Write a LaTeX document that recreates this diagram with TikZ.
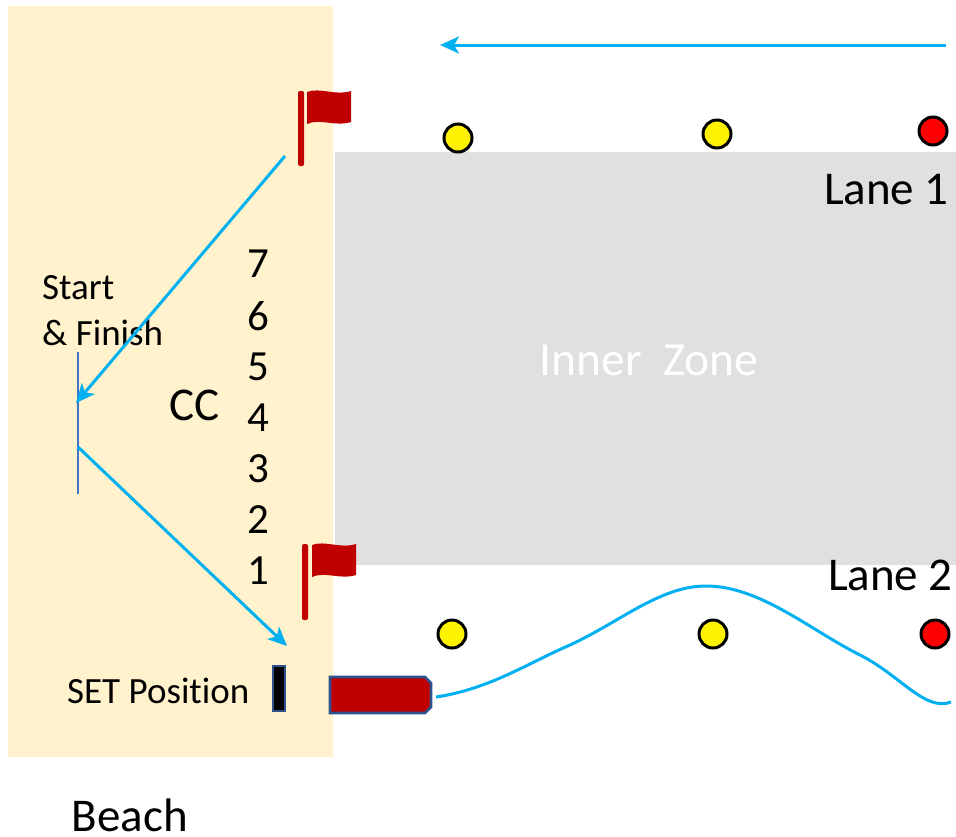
\documentclass[tikz,border=0pt]{standalone}
\usepackage{fontspec}
\setmainfont[Ligatures=NoCommon]{Carlito}
\usetikzlibrary{arrows.meta}
\definecolor{sand}{HTML}{FFF2CC}
\definecolor{zone}{HTML}{E0E0E0}
\definecolor{flagred}{HTML}{C00000}
\definecolor{arrowblue}{HTML}{00B0F0}
\definecolor{edgeblue}{HTML}{2F528F}
\definecolor{lineblue}{HTML}{4472C4}
\tikzset{
  buoy/.style={circle,draw=black,line width=3pt,fill=yellow,minimum size=28pt,inner sep=0pt},
  redbuoy/.style={buoy,fill=red},
  flow/.style={draw=arrowblue,line width=3pt,-{Stealth[length=19pt,width=17pt,inset=5pt]}},
  wave/.style={draw=arrowblue,line width=3pt},
  pole/.style={fill=flagred,rounded corners=2pt},
  flagcloth/.style={fill=flagred},
  lbl/.style={inner sep=0pt,text=black,font=\fontsize{47}{47}\selectfont},
  num/.style={inner sep=0pt,text=black,font=\fontsize{43}{43}\selectfont},
  small/.style={inner sep=0pt,text=black,font=\fontsize{37}{37}\selectfont},
}
\begin{document}
\begin{tikzpicture}[x=1pt,y=-1pt]
\useasboundingbox (0,0) rectangle (956,836);
\fill[sand] (8,6) rectangle (333,757);
\fill[zone] (335,152) rectangle (956,565);
\node[text=white,inner sep=0pt,font=\fontsize{47.5}{47.5}\selectfont] (inner) at (649,360) {Inner\ \ Zone};
\node[lbl,anchor=east] (lane1) at (949,190) {Lane 1};
\node[lbl,anchor=east] (lane2) at (953,575) {Lane 2};
\node[lbl,anchor=base] (beach) at (130,831) {Beach};
\node[lbl] (cc) at (195,405) {CC};
\foreach \n/\y in {7/264,6/316,5/367,4/418,3/469,2/520,1/571}
  \node[num] (n\n) at (258,\y) {\n};
\node[small,anchor=west] (start) at (42,288) {Start};
\node[small,anchor=west] (finish) at (42,333) {\&\ Finish};
\node[small,anchor=west] (setpos) at (67,691) {SET Position};
% flags
\fill[pole] (298,91) rectangle (304,166);
\fill[flagcloth] (307,92) .. controls (320,87) and (335,96) .. (351,91) -- (351,122)
  .. controls (335,127) and (320,118) .. (307,124) -- cycle;
\fill[pole] (302,544) rectangle (308,620);
\fill[flagcloth] (312,545) .. controls (325,540) and (340,549) .. (356,544) -- (356,575)
  .. controls (340,580) and (325,571) .. (312,577) -- cycle;
% buoys
\node[buoy] (b1) at (458,138) {};
\node[buoy] (b2) at (717,134) {};
\node[redbuoy] (b3) at (933,131) {};
\node[buoy] (b4) at (452,634) {};
\node[buoy] (b5) at (713,634) {};
\node[redbuoy] (b6) at (935,634) {};
% start line
\coordinate (sltop) at (78,352);
\coordinate (slbot) at (78,494);
\draw[lineblue,line width=2.6pt] (sltop) -- (slbot);
% arrows
\coordinate (topstart) at (946,45);
\coordinate (topend) at (440,45);
\draw[flow] (topstart) -- (topend);
\coordinate (inA) at (285,156);
\coordinate (inB) at (76,403);
\draw[flow] (inA) -- (inB);
\coordinate (outA) at (78,447);
\coordinate (outB) at (287,646);
\draw[flow] (outA) -- (outB);
% set marker and boat
\draw[edgeblue,line width=2.5pt,fill=black] (273,666) rectangle (285,711);
\draw[edgeblue,line width=2.8pt,fill=flagred] (330,677) -- (425,677) -- (431,683) -- (431,707) -- (425,713) -- (330,713) -- cycle;
% wake
\coordinate (wake) at (436,697);
\draw[wave] (wake) .. controls (490,689) and (530,662) .. (570,645)
  .. controls (620,622) and (660,586) .. (706,586)
  .. controls (760,586) and (810,630) .. (860,655)
  .. controls (900,675) and (925,712) .. (951,702);
\end{tikzpicture}
\end{document}
